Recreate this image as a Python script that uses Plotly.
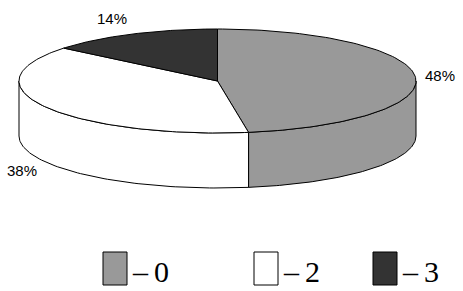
import numpy as np
import plotly.graph_objects as go

categories = ["0", "2", "3"]
values = [47.5, 38.4, 14.1]
colors = ["#999999", "#ffffff", "#333333"]

W, H = 463, 291
cx, cy = 217.5, 81
rx, ry = 198.5, 52
depth = 55

def pt(theta_deg, dy=0.0):
    t = np.radians(theta_deg)
    return cx + rx * np.cos(t), cy - ry * np.sin(t) + dy

fig = go.Figure()

total = sum(values)
starts, ends = [], []
a = 90.0
for v in values:
    b = a - v / total * 360.0
    starts.append(a)
    ends.append(b)
    a = b

def front_segments(hi, lo):
    segs = []
    for shift in (-360, 0, 360):
        l, h = lo + shift, hi + shift
        il, ih = max(l, -180), min(h, 0)
        if ih > il:
            segs.append((il, ih))
    return segs

# side walls
for i, (s, e) in enumerate(zip(starts, ends)):
    for (l, h) in front_segments(s, e):
        th = np.linspace(l, h, 80)
        xs_top, ys_top = pt(th)
        xs_bot, ys_bot = pt(th[::-1], depth)
        xs = np.concatenate([xs_top, xs_bot, xs_top[:1]])
        ys = np.concatenate([ys_top, ys_bot, ys_top[:1]])
        fig.add_trace(go.Scatter(x=xs, y=ys, mode="lines", fill="toself",
                                 fillcolor=colors[i], line=dict(color="black", width=1),
                                 hoverinfo="skip", showlegend=False))

# top slices
for i, (s, e) in enumerate(zip(starts, ends)):
    th = np.linspace(s, e, 120)
    ax, ay = pt(th)
    xs = np.concatenate([[cx], ax, [cx]])
    ys = np.concatenate([[cy], ay, [cy]])
    fig.add_trace(go.Scatter(x=xs, y=ys, mode="lines", fill="toself",
                             fillcolor=colors[i], line=dict(color="black", width=1),
                             hoverinfo="skip", showlegend=False))

# percentage labels
for i, (s, e) in enumerate(zip(starts, ends)):
    mid = (s + e) / 2
    t = np.radians(mid)
    ex, ey = pt(mid)
    if np.sin(t) < 0:
        ey += depth
    side = 1 if np.cos(t) >= 0 else -1
    lx = ex + 7.5 * np.cos(t)
    ly = ey - 17 * np.sin(t)
    pct = round(values[i] / total * 100)
    fig.add_annotation(x=lx, y=ly, text=f"{pct}%", showarrow=False,
                       font=dict(family="Liberation Sans, Arial", size=15, color="black"),
                       xanchor="left" if side > 0 else "right", yanchor="middle")

# legend
leg_x = [103, 254, 373]
for i, c in enumerate(categories):
    x0 = leg_x[i]
    fig.add_shape(type="rect", x0=x0, x1=x0 + 24, y0=252, y1=285,
                  fillcolor=colors[i], line=dict(color="black", width=1))
    fig.add_annotation(x=x0 + 27, y=271, text="\u2013\u2009" + c, showarrow=False,
                       font=dict(family="Liberation Serif, Times New Roman", size=30, color="black"),
                       xanchor="left", yanchor="middle")

fig.update_layout(
    width=W, height=H,
    margin=dict(l=0, r=0, t=0, b=0),
    paper_bgcolor="white", plot_bgcolor="white",
    xaxis=dict(range=[0, W], visible=False, fixedrange=True),
    yaxis=dict(range=[H, 0], visible=False, fixedrange=True),
    showlegend=False,
)

fig.write_html("out.html", config={"displayModeBar": False},
               post_script="document.body.style.margin='0';document.body.style.overflow='hidden';")
